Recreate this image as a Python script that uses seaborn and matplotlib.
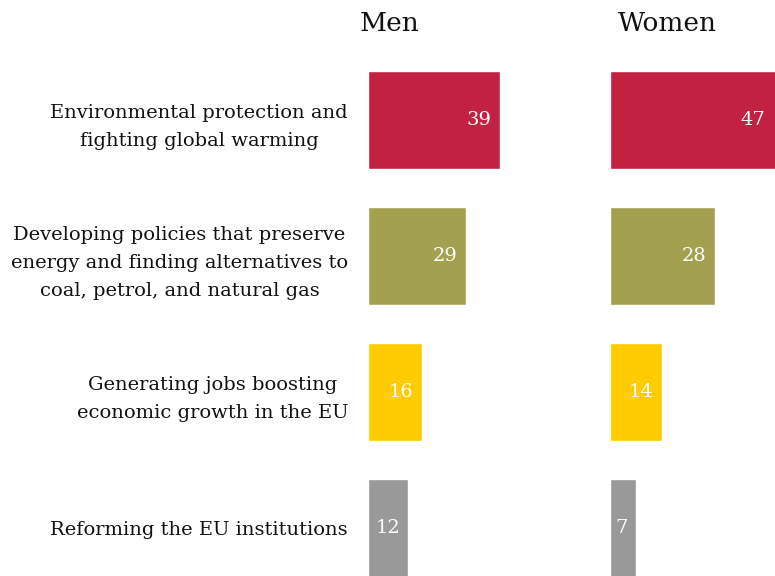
import numpy as np
import pandas as pd
import seaborn as sns
import matplotlib.pyplot as plt

# survey priorities, share of respondents (%)
categories = ['Environmental protection and\nfighting global warming',
              'Developing policies that preserve\nenergy and finding alternatives to\ncoal, petrol, and natural gas',
              'Generating jobs boosting\neconomic growth in the EU',
              'Reforming the EU institutions']
men = [39, 29, 16, 12]
women = [47, 28, 14, 7]
colors = ['#C32142', '#A3A050', '#FFCC00', '#999999']

sns.set_theme(style='white')
plt.rcParams['font.family'] = ['DejaVu Serif']

W, H = 775, 576
fig = plt.figure(figsize=(W / 100, H / 100), dpi=100)

# axes placed in pixel terms: rows 136 px apart, first row centred at y=120
top_px, bot_px = 52, 596
ax_m = fig.add_axes([367.5 / W, 1 - bot_px / H, 230 / W, (bot_px - top_px) / H])
ax_w = fig.add_axes([609.5 / W, 1 - bot_px / H, 200 / W, (bot_px - top_px) / H])

df_m = pd.DataFrame({'cat': categories, 'val': men})
df_w = pd.DataFrame({'cat': categories, 'val': women})

for ax, df, px_per_unit in [(ax_m, df_m, 3.4), (ax_w, df_w, 3.75)]:
    sns.barplot(data=df, x='val', y='cat', hue='cat', palette=colors,
                legend=False, width=0.72, saturation=1, ax=ax)
    ax.set_xlim(0, ax.get_position().width * W / px_per_unit)
    ax.set_ylim(3.5, -0.5)
    ax.set_xlabel('')
    ax.set_ylabel('')
    ax.set_xticks([])
    sns.despine(ax=ax, left=True, bottom=True)
    # value labels just inside the bar end (kept inside the figure edge)
    x_vis = (W - ax.get_position().x0 * W) / px_per_unit - 0.5
    for i, v in enumerate(df['val']):
        ax.annotate(str(v), xy=(min(v, x_vis), i), xytext=(-6, 0), textcoords='offset points',
                    ha='right', va='center', color='white', fontsize=14)

ax_m.tick_params(axis='y', length=0, pad=14, labelsize=14)
for lbl in ax_m.get_yticklabels():
    lbl.set_multialignment('center')
    lbl.set_linespacing(1.7)
    lbl.set_color('#111111')
ax_w.set_yticks([])

fig.text(390 / W, 1 - 31 / H, 'Men', ha='center', va='baseline', fontsize=19, color='#111111')
fig.text(667 / W, 1 - 31 / H, 'Women', ha='center', va='baseline', fontsize=19, color='#111111')

fig.savefig('out.png', dpi=100)
